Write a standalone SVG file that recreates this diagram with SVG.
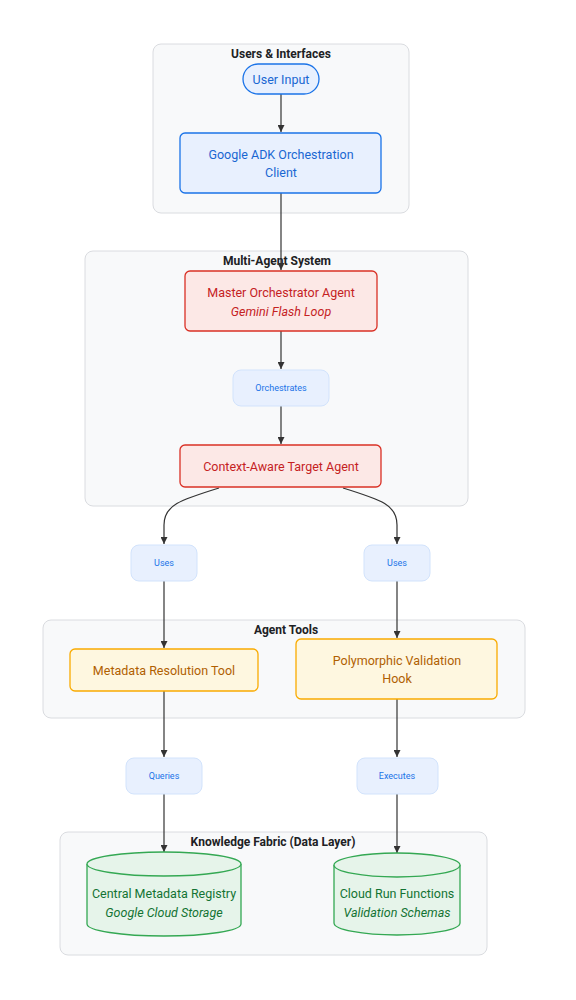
<svg xmlns="http://www.w3.org/2000/svg" width="576" height="1000" viewBox="0 0 576 1000">
<defs>
<marker id="arr" viewBox="0 0 10 10" refX="10" refY="5" markerWidth="7" markerHeight="7" markerUnits="userSpaceOnUse" orient="auto"><path d="M0,0 L10,5 L0,10 z" fill="#333"/></marker>
<style>
.cl{fill:#f8f9fa;stroke:#dadce0;stroke-width:1}
.ct{font-family:Roboto,"Liberation Sans",sans-serif;font-size:12px;font-weight:bold;fill:#202124;text-anchor:middle}
.t{font-family:Roboto,"Liberation Sans",sans-serif;font-size:12.5px;text-anchor:middle}
.it{font-style:italic}
.blue rect{fill:#e8f0fe;stroke:#1a73e8;stroke-width:1.3}
.blue text{fill:#1967d2}
.red rect{fill:#fce8e6;stroke:#d93025;stroke-width:1.3}
.red text{fill:#c5221f}
.yel rect{fill:#fef7e0;stroke:#f9ab00;stroke-width:1.3}
.yel text{fill:#b06000}
.grn path,.grn ellipse{fill:#e6f4ea;stroke:#34a853;stroke-width:1.3}
.grn text{fill:#137333}
.lb rect{fill:#e8f0fe;stroke:#d2e3fc;stroke-width:1}
.lb text{font-family:Roboto,"Liberation Sans",sans-serif;font-size:9px;fill:#1a73e8;text-anchor:middle}
.e{fill:none;stroke:#333;stroke-width:1.2}
</style>
</defs>
<g id="clusters">
<rect class="cl" x="153" y="44" width="256" height="169" rx="8"/>
<text class="ct" x="281" y="58">Users &amp; Interfaces</text>
<rect class="cl" x="85" y="251" width="383" height="255" rx="8"/>
<text class="ct" x="277" y="265">Multi-Agent System</text>
<rect class="cl" x="43" y="620" width="482" height="98" rx="8"/>
<text class="ct" x="286" y="634">Agent Tools</text>
<rect class="cl" x="60" y="832" width="427" height="123" rx="8"/>
<text class="ct" x="273" y="846">Knowledge Fabric (Data Layer)</text>
</g>
<g id="edges">
<path class="e" d="M281,94 V132" marker-end="url(#arr)"/>
<path class="e" d="M281,193 V270" marker-end="url(#arr)"/>
<path class="e" d="M281,331 V369" marker-end="url(#arr)"/>
<path class="e" d="M281,406 V444" marker-end="url(#arr)"/>
<path class="e" d="M219,488 C180,500 164,505 164,525 V544" marker-end="url(#arr)"/>
<path class="e" d="M343,488 C382,500 397,505 397,525 V544" marker-end="url(#arr)"/>
<path class="e" d="M164,581 V648" marker-end="url(#arr)"/>
<path class="e" d="M397,581 V638" marker-end="url(#arr)"/>
<path class="e" d="M164,691 V757" marker-end="url(#arr)"/>
<path class="e" d="M397,699 V757" marker-end="url(#arr)"/>
<path class="e" d="M164,794 V852" marker-end="url(#arr)"/>
<path class="e" d="M397,794 V853" marker-end="url(#arr)"/>
</g>
<g id="lbl-orch" class="lb"><rect x="233" y="370" width="96" height="36" rx="8"/><text x="281" y="391">Orchestrates</text></g>
<g id="lbl-uses1" class="lb"><rect x="131" y="545" width="66" height="36" rx="8"/><text x="164" y="566">Uses</text></g>
<g id="lbl-uses2" class="lb"><rect x="364" y="545" width="66" height="36" rx="8"/><text x="397" y="566">Uses</text></g>
<g id="lbl-queries" class="lb"><rect x="126" y="758" width="76" height="36" rx="8"/><text x="164" y="779">Queries</text></g>
<g id="lbl-exec" class="lb"><rect x="357" y="758" width="81" height="36" rx="8"/><text x="397" y="779">Executes</text></g>
<g id="user-input" class="blue"><rect x="243" y="64" width="76" height="30" rx="15"/><text class="t" x="281" y="83.5">User Input</text></g>
<g id="adk-client" class="blue"><rect x="180" y="133" width="201" height="60" rx="5"/><text class="t" x="281" y="158.5">Google ADK Orchestration</text><text class="t" x="281" y="176.5">Client</text></g>
<g id="master" class="red"><rect x="185" y="271" width="192" height="60" rx="5"/><text class="t" x="281" y="296.5">Master Orchestrator Agent</text><text class="t it" x="281" y="315.5">Gemini Flash Loop</text></g>
<g id="context" class="red"><rect x="180" y="445" width="201" height="42" rx="5"/><text class="t" x="281" y="470.5">Context-Aware Target Agent</text></g>
<g id="metadata-tool" class="yel"><rect x="70" y="649" width="188" height="42" rx="5"/><text class="t" x="164" y="674.5">Metadata Resolution Tool</text></g>
<g id="validation-hook" class="yel"><rect x="296" y="639" width="201" height="60" rx="5"/><text class="t" x="397" y="664.5">Polymorphic Validation</text><text class="t" x="397" y="682.5">Hook</text></g>
<g id="registry" class="grn"><path d="M87,864 A77,12 0 0 1 241,864 V924 A77,12 0 0 1 87,924 Z"/><path d="M87,864 A77,12 0 0 0 241,864" fill="none"/><text class="t" x="164" y="897.5">Central Metadata Registry</text><text class="t it" x="164" y="916.5">Google Cloud Storage</text></g>
<g id="cloudrun" class="grn"><path d="M334,865 A63,12 0 0 1 460,865 V923 A63,12 0 0 1 334,923 Z"/><path d="M334,865 A63,12 0 0 0 460,865" fill="none"/><text class="t" x="397" y="897.5">Cloud Run Functions</text><text class="t it" x="397" y="916.5">Validation Schemas</text></g>
</svg>
